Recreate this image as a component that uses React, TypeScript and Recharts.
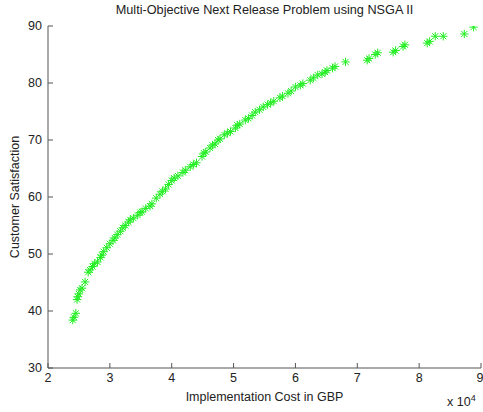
import React from 'react';
import { ScatterChart, Scatter, XAxis, YAxis, Label } from 'recharts';

// implementation cost (GBP) and customer satisfaction
const costs = [
  24000, 24200, 24500, 24700, 24800, 25000, 25200, 25500, 26000, 26500,
  26800, 27200, 27500, 28000, 28500, 28700, 29000, 29500, 30000, 30500,
  30800, 31200, 31700, 32100, 32500, 33000, 33300, 33800, 34500, 34900,
  35200, 35800, 36500, 36800, 37500, 38100, 38500, 39000, 39500, 40000,
  40400, 41000, 41800, 42200, 43000, 43500, 44000, 44900, 45200, 45500,
  46200, 46600, 47000, 47500, 47800, 48500, 49000, 49500, 50300, 50600,
  51000, 51900, 52400, 53000, 53500, 54200, 54800, 55500, 56000, 56500,
  57500, 57900, 58800, 59300, 60000, 60800, 61200, 62400, 62900, 63600,
  64300, 64800, 65100, 66000, 66400, 68100, 71600, 71900, 72900, 73300,
  75800, 76200, 77400, 77700, 81300, 81700, 82600, 83900, 87300, 88800,
];
const satisfaction = [
  38.4, 38.9, 39.6, 42.0, 42.5, 43.0, 43.7, 44.0, 45.1, 46.8,
  47.2, 47.8, 48.3, 48.6, 49.4, 49.8, 50.4, 51.1, 51.8, 52.4,
  52.8, 53.4, 54.0, 54.6, 55.0, 55.6, 56.0, 56.3, 56.8, 57.3,
  57.4, 58.0, 58.4, 58.8, 59.8, 60.5, 61.0, 61.4, 62.2, 62.9,
  63.3, 63.7, 64.3, 64.7, 65.3, 65.7, 66.0, 67.1, 67.7, 67.9,
  68.6, 69.1, 69.3, 70.0, 70.2, 70.9, 71.2, 71.5, 72.1, 72.6,
  72.8, 73.5, 73.8, 74.3, 74.9, 75.3, 75.8, 76.2, 76.5, 76.8,
  77.4, 77.7, 78.2, 78.6, 79.3, 79.6, 79.9, 80.5, 80.9, 81.4,
  81.6, 81.9, 82.2, 82.6, 82.9, 83.7, 84.0, 84.3, 85.0, 85.3,
  85.4, 85.7, 86.4, 86.7, 87.0, 87.3, 88.2, 88.2, 88.6, 89.8,
];
const xTicks = [20000, 30000, 40000, 50000, 60000, 70000, 80000, 90000];
const yTicks = [30, 40, 50, 60, 70, 80, 90];

const data = costs.map((c, i) => ({ cost: c, sat: satisfaction[i] }));

const font = 'Arial, "Liberation Sans", sans-serif';

const Star = (props: any) => {
  const { cx, cy } = props;
  const r = 4.2;
  const d = r * 0.72;
  return (
    <path
      d={`M${cx - r},${cy}L${cx + r},${cy}M${cx},${cy - r}L${cx},${cy + r}M${cx - d},${cy - d}L${cx + d},${cy + d}M${cx - d},${cy + d}L${cx + d},${cy - d}`}
      stroke="#22ee22"
      strokeWidth={1}
      fill="none"
    />
  );
};

const App = () => {
  const tickStyle = { fill: '#222', fontSize: 12.5, fontFamily: font };
  return (
    <div style={{ position: 'absolute', left: 0, top: 0, width: 483, height: 412, background: '#fff' }}>
      <div style={{ position: 'absolute', top: 3, left: 48, width: 433, textAlign: 'center', fontFamily: font, fontSize: 12.7, color: '#222' }}>
        Multi-Objective Next Release Problem using NSGA II
      </div>
      <ScatterChart width={483} height={412} margin={{ top: 26, right: 2, bottom: 14, left: 0 }}>
        <XAxis
          type="number"
          dataKey="cost"
          xAxisId="b"
          domain={[20000, 90000]}
          ticks={xTicks}
          tickFormatter={(v: number) => String(v / 10000)}
          allowDataOverflow
          height={30}
          tickSize={-5}
          tickMargin={10}
          tick={tickStyle}
          stroke="#555"
        >
          <Label value="Implementation Cost in GBP" position="center" dy={14} style={{ fill: '#222', fontSize: 12.5, fontFamily: font }} />
        </XAxis>
        <XAxis
          type="number"
          xAxisId="t"
          orientation="top"
          domain={[20000, 90000]}
          ticks={xTicks}
          tickFormatter={() => ''}
          height={0}
          tickSize={-5}
          stroke="#888"
        />
        <YAxis
          type="number"
          dataKey="sat"
          yAxisId="l"
          domain={[30, 90]}
          ticks={yTicks}
          allowDataOverflow
          width={48}
          tickSize={-5}
          tickMargin={11}
          tick={tickStyle}
          stroke="#555"
        >
          <Label value="Customer Satisfaction" position="center" angle={-90} dx={-9} style={{ fill: '#222', fontSize: 12.5, fontFamily: font, textAnchor: 'middle' }} />
        </YAxis>
        <YAxis
          type="number"
          yAxisId="r"
          orientation="right"
          domain={[30, 90]}
          ticks={yTicks}
          tickFormatter={() => ''}
          width={0}
          tickSize={-5}
          stroke="#888"
        />
        <Scatter data={data} xAxisId="b" yAxisId="l" shape={<Star />} isAnimationActive={false} />
      </ScatterChart>
      <div style={{ position: 'absolute', top: 393, left: 447, fontFamily: font, fontSize: 12.5, color: '#222', whiteSpace: 'nowrap' }}>
        x 10<sup style={{ fontSize: 9 }}>4</sup>
      </div>
    </div>
  );
};

export default App;
